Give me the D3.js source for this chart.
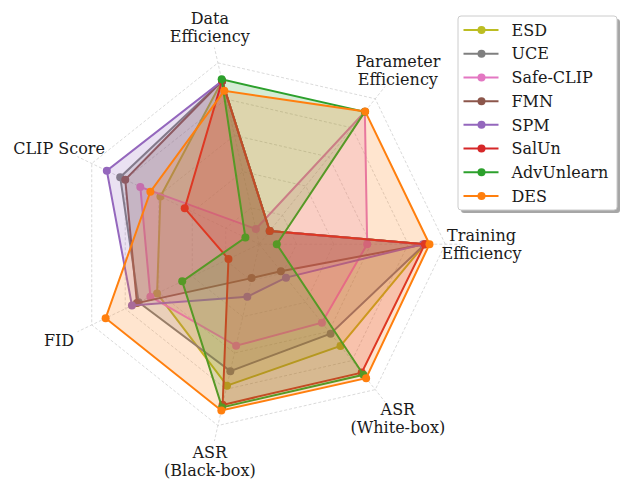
<!DOCTYPE html>
<html>
<head>
<meta charset="utf-8">
<script src="https://cdn.jsdelivr.net/npm/d3@7"></script>
<style>
  html, body { margin: 0; padding: 0; background: #fff; }
  svg { display: block; }
  text { font-family: "DejaVu Serif", serif; fill: #1a1a1a; }
</style>
</head>
<body>
<svg id="chart" width="620" height="479"></svg>
<script>
// Axes, counter-clockwise starting from the right-hand spoke
const axisLabels = [
  ["Training", "Efficiency"],
  ["Parameter", "Efficiency"],
  ["Data", "Efficiency"],
  ["CLIP Score"],
  ["FID"],
  ["ASR", "(Black-box)"],
  ["ASR", "(White-box)"]
];

const methods = ["ESD", "UCE", "Safe-CLIP", "FMN", "SPM", "SalUn", "AdvUnlearn", "DES"];
const colors  = ["#bcbd22", "#7f7f7f", "#e377c2", "#8c564b", "#9467bd", "#d62728", "#2ca02c", "#ff7f0e"];

// Normalised scores per method, same order as axisLabels
const esd        = [0.89, 0.09, 0.90, 0.59, 0.61, 0.78, 0.70];
const uce        = [0.89, 0.09, 0.90, 0.83, 0.72, 0.70, 0.615];
const safeClip   = [0.58, 0.91, 0.084, 0.71, 0.65, 0.56, 0.54];
const fmn        = [0.89, 0.09, 0.90, 0.80, 0.73, 0.187, 0.186];
const spm        = [0.88, 0.09, 0.90, 0.91, 0.76, 0.29, 0.23];
const salUn      = [0.89, 0.09, 0.90, 0.445, 0.184, 0.886, 0.883];
const advUnlearn = [0.094, 0.91, 0.909, 0.083, 0.46, 0.90, 0.898];
const des        = [0.915, 0.913, 0.846, 0.65, 0.917, 0.917, 0.921];

const seriesValues = [esd, uce, safeClip, fmn, spm, salUn, advUnlearn, des];

const gridLevels = [0.2, 0.4, 0.6, 0.8, 1.0];
const spokeEnd = 1.085;
const labelAt = 1.195;

const svg = d3.select("#chart");
const cx = 259.3, cy = 244.2;
const g = svg.append("g").attr("transform", `translate(${cx},${cy})`);

const r = d3.scaleLinear().domain([0, 1]).range([0, 186]);
const n = axisLabels.length;
// d3 radial angle is clockwise from 12 o'clock; spoke i sits at i*360/n counter-clockwise from 3 o'clock
const angle = d3.scaleLinear().domain([0, n]).range([Math.PI / 2, Math.PI / 2 - 2 * Math.PI]);
const idx = d3.range(n);

const pt = (i, v) => [r(v) * Math.sin(angle(i)), -r(v) * Math.cos(angle(i))];

// grid rings
const ring = d3.lineRadial().angle(i => angle(i)).curve(d3.curveLinearClosed);
g.selectAll("path.ring").data(gridLevels).join("path")
  .attr("class", "ring")
  .attr("d", lv => ring.radius(() => r(lv))(idx))
  .attr("fill", "none")
  .attr("stroke", "#d0d0d0")
  .attr("stroke-width", 0.8)
  .attr("stroke-dasharray", "3,2");

// spokes
g.selectAll("line.spoke").data(idx).join("line")
  .attr("class", "spoke")
  .attr("x1", 0).attr("y1", 0)
  .attr("x2", i => pt(i, spokeEnd)[0])
  .attr("y2", i => pt(i, spokeEnd)[1])
  .attr("stroke", "#d0d0d0")
  .attr("stroke-width", 0.8)
  .attr("stroke-dasharray", "3,2");

// series polygons
const poly = d3.lineRadial()
  .angle((d, i) => angle(i))
  .radius(d => r(d))
  .curve(d3.curveLinearClosed);

seriesValues.forEach((vals, k) => {
  const s = g.append("g").attr("class", "series");
  s.append("path")
    .attr("d", poly(vals))
    .attr("fill", colors[k])
    .attr("fill-opacity", 0.2)
    .attr("stroke", "none");
  s.append("path")
    .attr("d", poly(vals))
    .attr("fill", "none")
    .attr("stroke", colors[k])
    .attr("stroke-width", 2)
    .attr("stroke-linejoin", "miter");
  s.selectAll("circle").data(vals).join("circle")
    .attr("cx", (d, i) => pt(i, d)[0])
    .attr("cy", (d, i) => pt(i, d)[1])
    .attr("r", 4)
    .attr("fill", colors[k]);
});

// axis labels
const fs = 16;
const lineH = 17.8;
g.selectAll("text.axis").data(axisLabels).join("text")
  .attr("class", "axis")
  .attr("text-anchor", "middle")
  .attr("font-size", fs)
  .each(function (lines, i) {
    const [x, y] = pt(i, labelAt);
    const t = d3.select(this);
    const y0 = y - (lines.length - 1) * lineH / 2;
    lines.forEach((ln, j) => {
      t.append("tspan")
        .attr("x", x)
        .attr("y", y0 + j * lineH)
        .attr("dy", "0.36em")
        .text(ln);
    });
  });

// legend
const lg = svg.append("g").attr("transform", "translate(458,16)");
const lw = 159, lh = 194;
lg.append("rect").attr("x", 3).attr("y", 3).attr("width", lw).attr("height", lh)
  .attr("rx", 3).attr("fill", "#000").attr("fill-opacity", 0.35);
lg.append("rect").attr("x", 0).attr("y", 0).attr("width", lw).attr("height", lh)
  .attr("rx", 3).attr("fill", "#fff").attr("stroke", "#cccccc").attr("stroke-width", 1);
const rowY = d3.scaleLinear().domain([0, methods.length - 1]).range([14, 180]);
methods.forEach((m, k) => {
  const y = rowY(k);
  lg.append("line").attr("x1", 5.5).attr("x2", 40.5).attr("y1", y).attr("y2", y)
    .attr("stroke", colors[k]).attr("stroke-width", 2);
  lg.append("circle").attr("cx", 23.5).attr("cy", y).attr("r", 4).attr("fill", colors[k]);
  lg.append("text").attr("x", 53.5).attr("y", y).attr("dy", "0.36em")
    .attr("font-size", fs).text(m);
});
</script>
</body>
</html>
